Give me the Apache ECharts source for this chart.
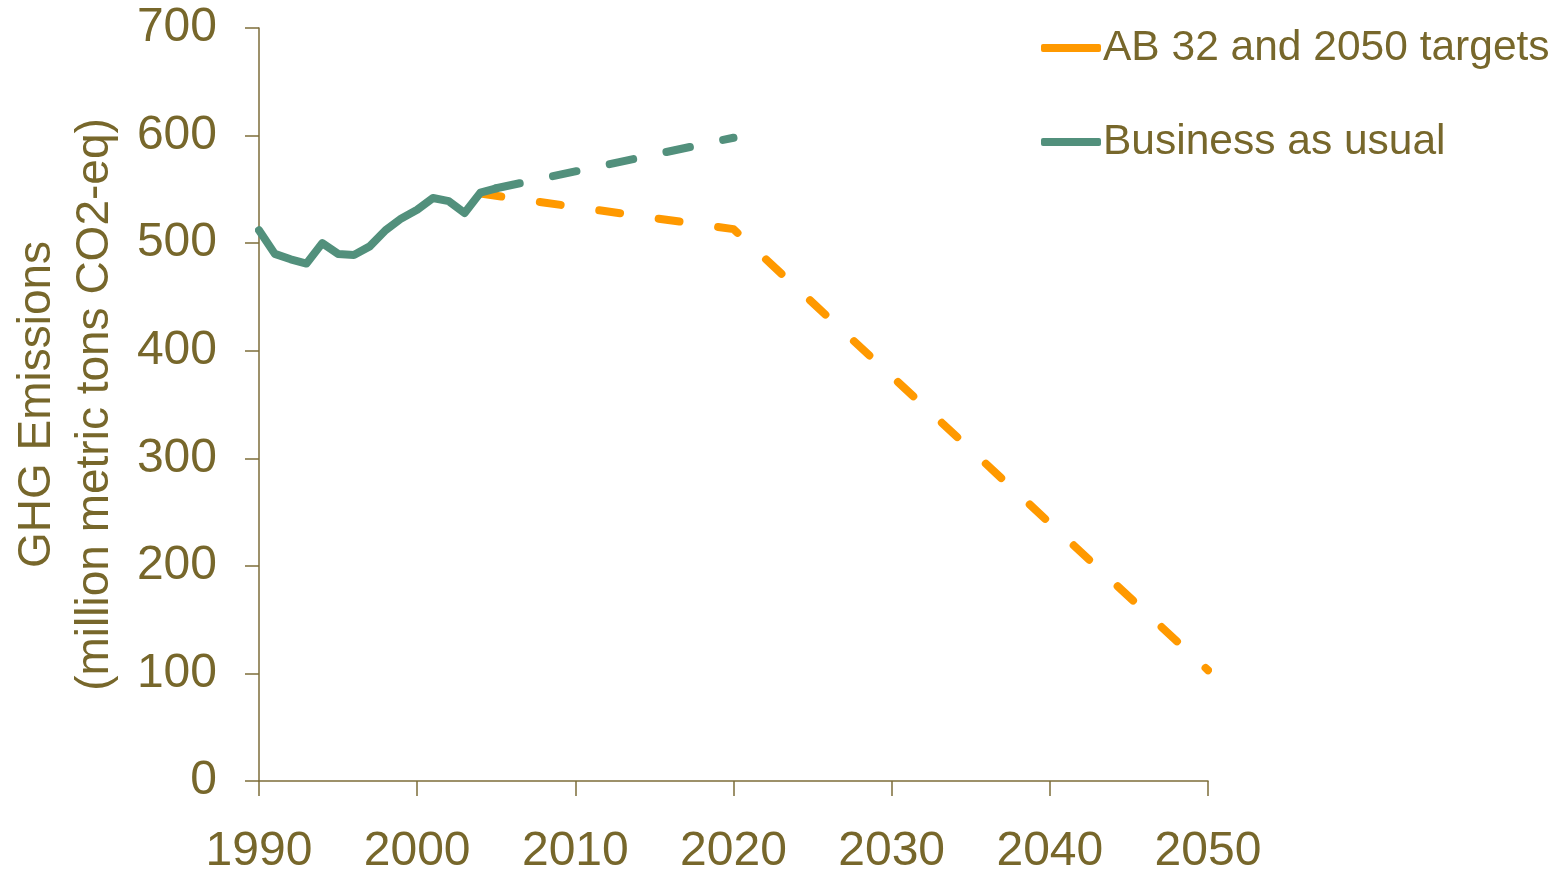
<!DOCTYPE html>
<html>
<head>
<meta charset="utf-8">
<script src="https://cdn.jsdelivr.net/npm/echarts@6/dist/echarts.min.js"></script>
<style>
  html, body { margin: 0; padding: 0; background: #fff; }
  #main { width: 1566px; height: 874px; }
</style>
</head>
<body>
<div id="main"></div>
<script>
// historical emissions, 1990-2005
var histYears = [1990, 1991, 1992, 1993, 1994, 1995, 1996, 1997, 1998, 1999, 2000, 2001, 2002, 2003, 2004, 2005];
var histValues = [512, 490, 485, 481, 500, 490, 489, 497, 512, 523, 531, 542, 539, 528, 547, 551];

// business as usual projection
var bauYears = [2005, 2020];
var bauValues = [551, 598];

// AB 32 and 2050 targets
var targetYears = [2004, 2020, 2050];
var targetValues = [546, 513, 103];

var xTicks = [1990, 2000, 2010, 2020, 2030, 2040, 2050];

var txt = '#77672b';
var axisCol = '#7d6d3a';
var orange = '#ff9900';
var green = '#52907c';
var font = '"Liberation Sans", Arial, sans-serif';

function pairs(xs, ys) {
    return xs.map(function (x, i) { return [x, ys[i]]; });
}

var chart = echarts.init(document.getElementById('main'));
var option = {
    animation: false,
    textStyle: { fontFamily: font },
    grid: { left: 259, right: 358, top: 28, bottom: 93, outerBoundsMode: 'none', containLabel: false },
    legend: {
        data: ['AB 32 and 2050 targets', 'Business as usual'],
        orient: 'vertical',
        left: 1036,
        top: 18,
        icon: 'roundRect',
        itemWidth: 60,
        itemHeight: 8,
        itemGap: 44,
        textStyle: { color: txt, fontSize: 42.5, fontFamily: font, lineHeight: 50, padding: [0, 0, 0, -3] }
    },
    xAxis: {
        type: 'value',
        min: xTicks[0],
        max: xTicks[xTicks.length - 1],
        interval: 10,
        axisLine: { onZero: false, lineStyle: { color: axisCol, width: 1.5 } },
        axisTick: { show: true, length: 15, lineStyle: { color: axisCol, width: 1.5 } },
        splitLine: { show: false },
        axisLabel: { color: txt, fontSize: 48, fontFamily: font, margin: 47, formatter: function (v) { return String(v); } }
    },
    yAxis: {
        type: 'value',
        min: 0,
        max: 700,
        interval: 100,
        name: 'GHG Emissions\n(million metric tons CO2-eq)',
        nameLocation: 'middle',
        nameGap: 135,
        nameTextStyle: { color: txt, fontSize: 46, fontFamily: font, lineHeight: 58 },
        axisLine: { show: true, lineStyle: { color: axisCol, width: 1.5 } },
        axisTick: { show: true, length: 14, lineStyle: { color: axisCol, width: 1.5 } },
        splitLine: { show: false },
        axisLabel: { color: txt, fontSize: 48, fontFamily: font, margin: 42 }
    },
    series: [
        {
            name: 'AB 32 and 2050 targets',
            type: 'line',
            symbol: 'none',
            color: orange,
            lineStyle: { color: orange, width: 8, type: [21, 39], cap: 'round', join: 'round' },
            data: pairs(targetYears, targetValues)
        },
        {
            name: 'Business as usual',
            type: 'line',
            symbol: 'none',
            color: green,
            lineStyle: { color: green, width: 8, cap: 'round', join: 'round' },
            data: pairs(histYears, histValues)
        },
        {
            name: 'BAU projection',
            type: 'line',
            symbol: 'none',
            color: green,
            lineStyle: { color: green, width: 8, type: [24, 34], cap: 'round', join: 'round' },
            data: pairs(bauYears, bauValues)
        }
    ]
};
chart.setOption(option);
</script>
</body>
</html>
